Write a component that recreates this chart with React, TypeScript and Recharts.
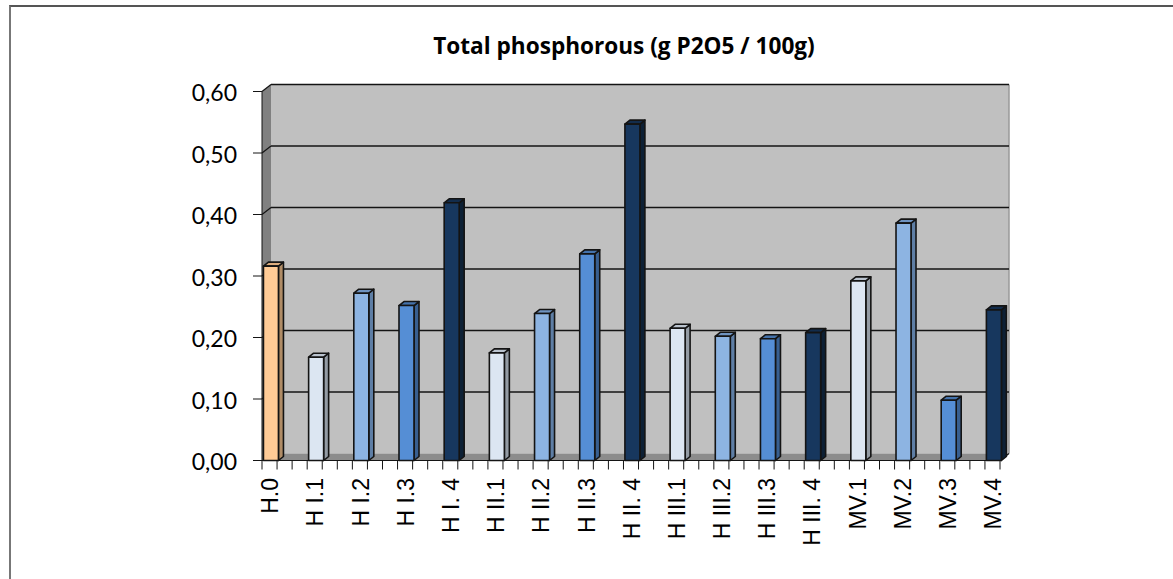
import React from 'react';
import { BarChart, Bar, XAxis, YAxis, CartesianGrid } from 'recharts';

const categories = ['H.0', 'H I.1', 'H I.2', 'H I.3', 'H I. 4', 'H II.1', 'H II.2', 'H II.3', 'H II. 4', 'H III.1', 'H III.2', 'H III.3', 'H III. 4', 'MV.1', 'MV.2', 'MV.3', 'MV.4'];
const values = [0.316, 0.168, 0.272, 0.252, 0.419, 0.175, 0.239, 0.336, 0.547, 0.215, 0.202, 0.198, 0.208, 0.292, 0.386, 0.098, 0.245];
const yTicks = [0, 0.1, 0.2, 0.3, 0.4, 0.5, 0.6];
const PEACH = ['#FFCB96', '#DDAD7E', '#B08C66'];
const PALE = ['#DCE6F2', '#BAC3CE', '#939BA4'];
const SKY = ['#8DB4E2', '#6F93C0', '#5E7EA5'];
const BLUE = ['#558ED5', '#4472AB', '#385F90'];
const NAVY = ['#17375E', '#122C4C', '#0D2035'];
const cycle = [PALE, SKY, BLUE, NAVY];
const barColors = categories.map((_, i) => (i === 0 ? PEACH : cycle[(i - 1) % 4]));

const SLOTS_PER_CATEGORY = 3;
const SLOT_COUNT = 49;
const BAR_OFFSET = 0.6;
const table = categories.map((name, i) => ({ name, slot: i * SLOTS_PER_CATEGORY + BAR_OFFSET, value: values[i] }));
const slotTicks = Array.from({ length: SLOT_COUNT + 1 }, (_, i) => i);

const DX = 9;
const DY = 7;
const BDX = 5;
const BDY = 4;
const INK = '#141414';

const gridLine = (p: any) => {
  const { x1, x2, y1, x, y, width, height, index } = p;
  const isFloor = Math.abs(y1 - (y + height)) < 1;
  return (
    <g key={`grid-${index}`}>
      {index === 0 && (
        <g>
          <rect x={x + DX} y={y - DY} width={width} height={height} fill="#C0C0C0" />
          <polygon points={`${x},${y} ${x + DX},${y - DY} ${x + DX},${y + height - DY} ${x},${y + height}`} fill="#808080" />
          <polygon points={`${x},${y + height} ${x + DX},${y + height - DY} ${x + width + DX},${y + height - DY} ${x + width},${y + height}`} fill="#8C8C8C" />
          <line x1={x + width + DX} x2={x + width + DX} y1={y - DY} y2={y + height - DY} stroke="#999" strokeWidth={1.5} />
        </g>
      )}
      {!isFloor && (
        <g>
          <line x1={x1} y1={y1} x2={x1 + DX} y2={y1 - DY} stroke={INK} strokeWidth={1.2} />
          <line x1={x1 + DX} y1={y1 - DY} x2={x2 + DX} y2={y1 - DY} stroke={INK} strokeWidth={1.7} />
        </g>
      )}
      {isFloor && <line x1={x2} y1={y1} x2={x2 + DX} y2={y1 - DY} stroke={INK} strokeWidth={1.2} />}
    </g>
  );
};

const Bar3D = (p: any) => {
  const { x, y, width, height, index } = p;
  const [front, top, side] = barColors[index];
  const r = x + width;
  const b = y + height;
  return (
    <g stroke={INK} strokeWidth={1.6} strokeLinejoin="round">
      <polygon points={`${r},${y} ${r + BDX},${y - BDY} ${r + BDX},${b - BDY} ${r},${b}`} fill={side} />
      <polygon points={`${x},${y} ${x + BDX},${y - BDY} ${r + BDX},${y - BDY} ${r},${y}`} fill={top} />
      <rect x={x} y={y} width={width} height={height} fill={front} />
    </g>
  );
};

const SlotTick = (p: any) => {
  const { x, payload } = p;
  const v = payload.value;
  if (v % SLOTS_PER_CATEGORY !== 0 || v / SLOTS_PER_CATEGORY >= categories.length) return <g />;
  const cx = x + 8;
  const cy = 478;
  return (
    <text x={cx} y={cy} transform={`rotate(-90 ${cx} ${cy})`} textAnchor="end" dy="0.36em" fontFamily="'Liberation Sans'" fontSize={23} fill="#000">
      {categories[v / SLOTS_PER_CATEGORY]}
    </text>
  );
};

export default function App() {
  return (
    <div style={{ position: 'absolute', left: 0, top: 0, width: 1173, height: 579, overflow: 'hidden', background: '#fff' }}>
      <div style={{ position: 'absolute', left: 9, top: 5, width: 1164, height: 574, boxSizing: 'border-box', borderTop: '2px solid #555', borderLeft: '2px solid #777' }} />
      <BarChart width={1173} height={579} data={table} margin={{ top: 91.5, right: 173, bottom: 58.5, left: 202 }} style={{ position: 'absolute', left: 0, top: 0 }}>
        <CartesianGrid horizontal={gridLine} vertical={false} />
        <XAxis
          type="number"
          dataKey="slot"
          domain={[0, SLOT_COUNT]}
          ticks={slotTicks}
          interval={0}
          height={60}
          tickSize={9}
          stroke={INK}
          tick={<SlotTick />}
        />
        <YAxis
          type="number"
          domain={[0, 0.6]}
          ticks={yTicks}
          width={60}
          interval={0}
          tickSize={9}
          tickMargin={16}
          stroke={INK}
          tick={{ fill: '#000', fontFamily: 'Lato', fontSize: 23, dy: 1.5 }}
          tickFormatter={(v: number) => v.toFixed(2).replace('.', ',')}
        />
        <Bar dataKey="value" barSize={15} shape={<Bar3D />} isAnimationActive={false} />
        <text x={624} y={53.5} textAnchor="middle" fontFamily="'Open Sans'" fontWeight={700} fontSize={22.6} fill="#000">
          Total phosphorous (g P2O5 / 100g)
        </text>
      </BarChart>
    </div>
  );
}
